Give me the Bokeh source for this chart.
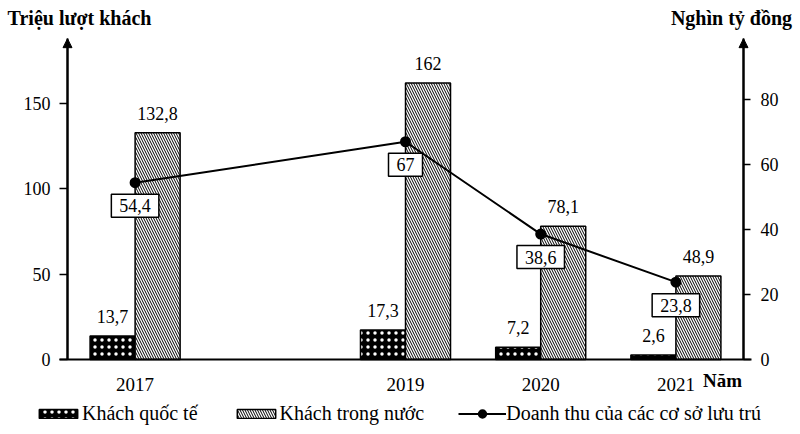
from bokeh.plotting import figure
from bokeh.models import (Range1d, LinearAxis, FixedTicker, ColumnDataSource, LabelSet, Label,
                          Legend, LegendItem, Arrow, NormalHead, AllLabels, Text)
from bokeh.core.properties import value
from bokeh.transform import dodge
from bokeh.embed import file_html
from bokeh.resources import INLINE

# ---- data ----
years = [2017, 2019, 2020, 2021]
khach_quoc_te = [13.7, 17.3, 7.2, 2.6]
khach_trong_nuoc = [132.8, 162, 78.1, 48.9]
doanh_thu = [54.4, 67, 38.6, 23.8]
left_ticks = [0, 50, 100, 150]
right_ticks = [0, 20, 40, 60, 80]
left_title = "Triệu lượt khách"
right_title = "Nghìn tỷ đồng"
x_title = "Năm"
series_names = ["Khách quốc tế", "Khách trong nước", "Doanh thu của các cơ sở lưu trú"]


def fmt(v):
    return f"{v:g}".replace(".", ",")


FONT = "Liberation Serif"

# ---- layout constants (pixels of the 800x434 canvas) ----
FRAME_L, FRAME_R, FRAME_T, FRAME_B = 20, 782, 34, 430
AXL_PX, AXR_PX, BASE_PX = 67, 743, 359
AX_L, AX_R = 2016.5, 2021.5                     # data x of the two vertical axes
PX_PER_YEAR = (AXR_PX - AXL_PX) / (AX_R - AX_L)
L_SCALE, R_SCALE = 85.33 / 50, 65 / 20           # px per unit, left / right axis
ARROW_TIP = 188                                  # left-axis units
TITLE_L_X, TITLE_R_X, NAM_X = 2016.589, 2021.411, 2021.345
BW = 0.333

src = ColumnDataSource(dict(
    year=years, qt=khach_quoc_te, tn=khach_trong_nuoc, dt=doanh_thu,
    year_lbl=[str(y) for y in years],
    qt_lbl=[fmt(v) for v in khach_quoc_te],
    tn_lbl=[fmt(v) for v in khach_trong_nuoc],
    dt_lbl=[fmt(v) for v in doanh_thu],
))
left_src = ColumnDataSource(dict(tick=left_ticks, lbl=[str(t) for t in left_ticks]))
right_src = ColumnDataSource(dict(tick=right_ticks, lbl=[str(t) for t in right_ticks]))

p = figure(width=800, height=434, output_backend="svg", toolbar_location=None,
           x_axis_location=None,
           x_range=Range1d(AX_L - (AXL_PX - FRAME_L) / PX_PER_YEAR,
                           AX_R + (FRAME_R - AXR_PX) / PX_PER_YEAR),
           y_range=Range1d(-(FRAME_B - BASE_PX) / L_SCALE, (BASE_PX - FRAME_T) / L_SCALE),
           min_border_left=FRAME_L, min_border_right=800 - FRAME_R,
           min_border_top=FRAME_T, min_border_bottom=434 - FRAME_B)
p.extra_y_ranges = {"right": Range1d(-(FRAME_B - BASE_PX) / R_SCALE, (BASE_PX - FRAME_T) / R_SCALE)}
p.outline_line_color = None
p.grid.visible = False
p.background_fill_color = "white"
p.border_fill_color = "white"


def style_axis(ax, size="18px"):
    ax.minor_tick_line_color = None
    ax.major_tick_in = 0
    ax.major_tick_line_width = 1.5
    ax.major_tick_line_color = "black"
    ax.axis_line_width = 2
    ax.axis_line_color = "black"
    ax.major_label_text_font = FONT
    ax.major_label_text_font_size = size
    ax.major_label_text_color = "black"
    ax.major_label_policy = AllLabels()


# left axis (line + ticks; its numbers are drawn by a LabelSet so they are not clipped)
ya = p.yaxis[0]
style_axis(ya)
ya.ticker = FixedTicker(ticks=left_ticks)
ya.major_label_overrides = {t: "" for t in left_ticks}
ya.major_tick_out = 8
ya.major_label_standoff = 0
ya.fixed_location = AX_L
ya.bounds = (0, ARROW_TIP)

# right axis
ra = LinearAxis(y_range_name="right", ticker=FixedTicker(ticks=right_ticks))
style_axis(ra)
ra.major_label_overrides = {t: "" for t in right_ticks}
ra.major_tick_out = 7
ra.major_label_standoff = 0
ra.fixed_location = AX_R
ra.bounds = (0, ARROW_TIP * L_SCALE / R_SCALE)
p.add_layout(ra, "right")

# tick numbers
p.add_layout(LabelSet(x=AX_L, y="tick", text="lbl", source=left_src, text_align="right",
                      text_baseline="middle", x_offset=-17, text_font=FONT,
                      text_font_size="18px", text_color="black"))
p.add_layout(LabelSet(x=AX_R, y="tick", text="lbl", source=right_src, y_range_name="right",
                      text_align="left", text_baseline="middle", x_offset=17, text_font=FONT,
                      text_font_size="18px", text_color="black"))

# axis titles on top (bold) as a label-only axis
ta = LinearAxis(ticker=FixedTicker(ticks=[TITLE_L_X, TITLE_R_X]),
                major_label_overrides={TITLE_L_X: left_title, TITLE_R_X: right_title})
style_axis(ta, "20px")
ta.axis_line_color = None
ta.major_tick_line_color = None
ta.major_tick_out = 0
ta.major_label_text_font_style = "bold"
ta.major_label_standoff = 6
p.add_layout(ta, "above")

# baseline (x axis line at y = 0), labels drawn separately below it
ba = LinearAxis(ticker=FixedTicker(ticks=[]))
style_axis(ba)
ba.major_tick_line_color = None
ba.major_tick_out = 0
ba.major_label_standoff = 0
ba.fixed_location = 0
ba.bounds = (AX_L - 8 / PX_PER_YEAR, AX_R + 8 / PX_PER_YEAR)
p.add_layout(ba, "below")

# bars
r_qt = p.vbar(x=dodge("year", -BW / 2, range=p.x_range), top="qt", width=BW, source=src,
              fill_color="black", line_color="black", line_width=1.5,
              hatch_pattern="dot", hatch_color="white", hatch_scale=7, hatch_weight=1.5)
r_tn = p.vbar(x=dodge("year", BW / 2, range=p.x_range), top="tn", width=BW, source=src,
              fill_color="white", line_color="black", line_width=1.5,
              hatch_pattern="\\", hatch_color="black", hatch_scale=5, hatch_weight=1)

# line
r_line = p.line("year", "dt", source=src, y_range_name="right", line_color="black", line_width=2)
r_dot = p.scatter("year", "dt", source=src, y_range_name="right", size=6, line_width=5,
                  fill_color="black", line_color="black")

# year labels under the baseline
p.add_layout(LabelSet(x="year", y=0, text="year_lbl", source=src, text_align="center",
                      text_baseline="middle", y_offset=-25, text_font=FONT,
                      text_font_size="19px", text_color="black"))
p.add_layout(Label(x=NAM_X, y=0, text=x_title, text_align="center", text_baseline="middle",
                   y_offset=-21, text_font=FONT, text_font_size="19px",
                   text_font_style="bold", text_color="black"))

# value labels above bars
for col, lbl, off in (("qt", "qt_lbl", -BW / 2), ("tn", "tn_lbl", BW / 2)):
    p.add_layout(LabelSet(x=dodge("year", off, range=p.x_range), y=col, text=lbl, source=src,
                          text_align="center", text_baseline="alphabetic", y_offset=13,
                          text_font=FONT, text_font_size="18px", text_color="black"))

# boxed revenue labels
if "padding" in Text.properties():
    p.text(x="year", y="dt", text="dt_lbl", source=src, y_range_name="right",
           text_align="center", text_baseline="middle", y_offset=23,
           text_font=value(FONT), text_font_size="18px", text_color="black",
           background_fill_color="white", border_line_color="black", border_line_width=1.5,
           padding=dict(left=8, right=8, top=5, bottom=5))
else:
    p.add_layout(LabelSet(x="year", y="dt", text="dt_lbl", source=src, y_range_name="right",
                          text_align="center", text_baseline="middle", y_offset=-23,
                          text_font=FONT, text_font_size="18px", text_color="black",
                          background_fill_color="white", border_line_color="black",
                          border_line_width=1.5))

# axis arrows
for xpos in (AX_L, AX_R):
    p.add_layout(Arrow(end=NormalHead(size=9, fill_color="black", line_color="black", line_width=1),
                       x_start=xpos, y_start=0, x_end=xpos, y_end=ARROW_TIP,
                       line_width=2, line_color="black"))

# legend inside the (extended) frame, under the year labels
leg = Legend(items=[LegendItem(label=series_names[0], renderers=[r_qt]),
                    LegendItem(label=series_names[1], renderers=[r_tn]),
                    LegendItem(label=series_names[2], renderers=[r_line, r_dot])],
             orientation="horizontal", location=(34 - FRAME_L, 5), margin=0, padding=0,
             glyph_width=48, glyph_height=11, label_standoff=0, spacing=34,
             border_line_color=None, background_fill_alpha=0,
             label_text_font=FONT, label_text_font_size="20px", label_text_color="black")
p.add_layout(leg)

open("out.html", "w").write(file_html(p, INLINE))
